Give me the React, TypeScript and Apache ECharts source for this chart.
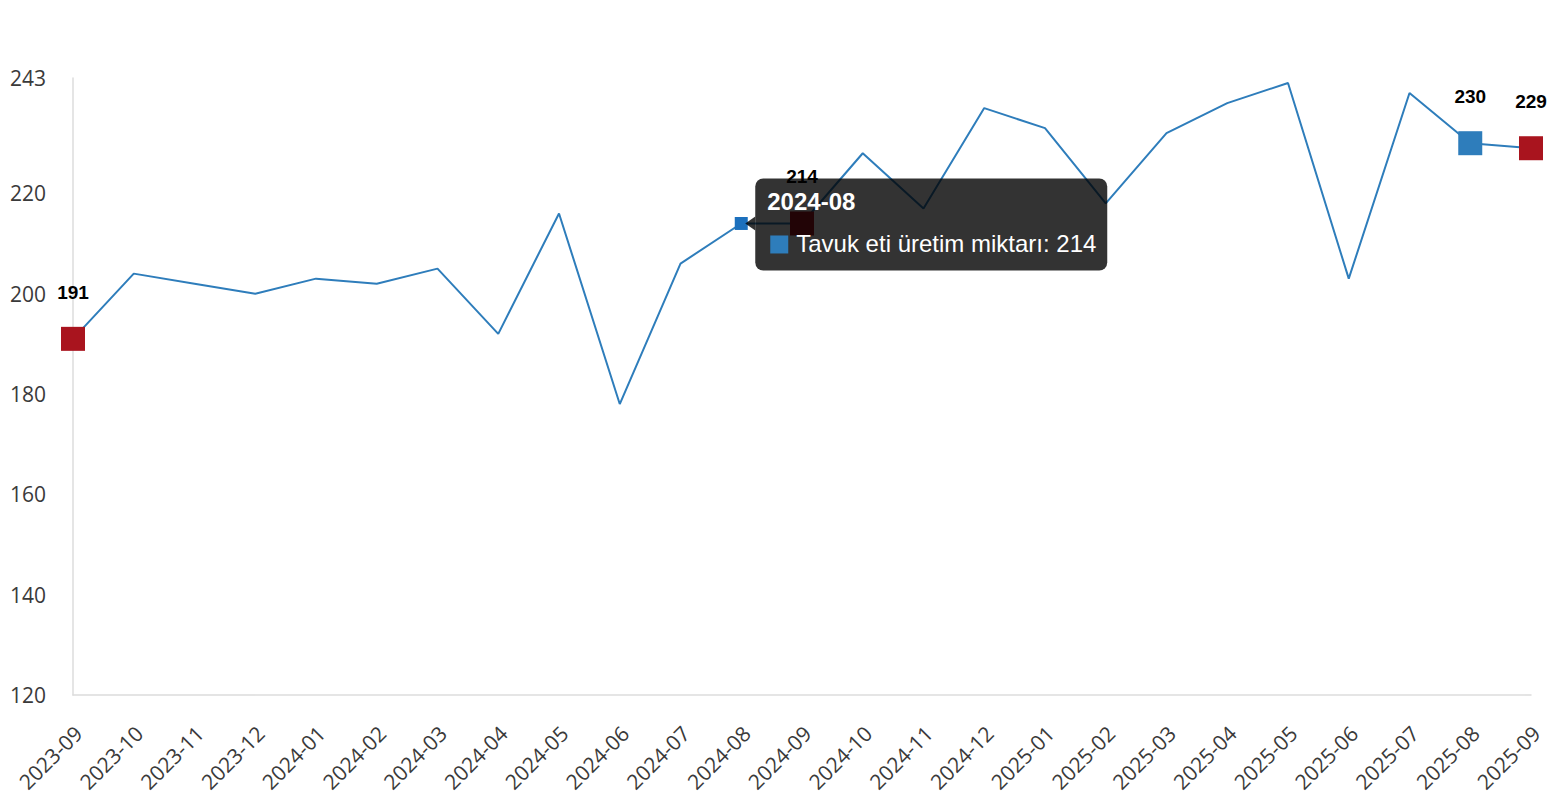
import React, { useEffect, useRef } from "react";
import * as echarts from "echarts";

const seriesName = "Tavuk eti üretim miktarı";

const categories = [
  "2023-09", "2023-10", "2023-11", "2023-12", "2024-01", "2024-02", "2024-03",
  "2024-04", "2024-05", "2024-06", "2024-07", "2024-08", "2024-09", "2024-10",
  "2024-11", "2024-12", "2025-01", "2025-02", "2025-03", "2025-04", "2025-05",
  "2025-06", "2025-07", "2025-08", "2025-09",
];

const values = [
  191, 204, 202, 200, 203, 202, 205, 192, 216, 178, 206, 214, 214, 228, 217,
  237, 233, 218, 232, 238, 242, 203, 240, 230, 229,
];

const yMin = 120;
const yMax = 243;
const yInterval = 20;
const yTickLabels = [120, 140, 160, 180, 200, 220, 243];

// highlighted points
const redIndices = [0, 12, 24]; // same month (September) of each year
const blueIndices = [23]; // previous month
const hoverIndex = 11; // point with the tooltip shown

const LINE_COLOR = "#2e7dbb";
const RED_COLOR = "#a9141e";
const HOVER_COLOR = "#1c70bd";
const TIP_BG = "rgba(0,0,0,0.8)";

export default function App() {
  const ref = useRef<HTMLDivElement | null>(null);

  useEffect(() => {
    if (!ref.current) return;
    const chart = echarts.init(ref.current, null, { renderer: "svg" });

    const labelStyle = {
      show: true,
      position: "top",
      distance: 25,
      color: "#000",
      fontWeight: "bold",
      fontSize: 19,
      fontFamily: "Liberation Sans, Arial, sans-serif",
    };

    const data = values.map((v, i) => {
      if (redIndices.includes(i)) {
        return {
          value: v,
          symbol: "rect",
          symbolSize: 24,
          itemStyle: { color: RED_COLOR },
          label: labelStyle,
        };
      }
      if (blueIndices.includes(i)) {
        return {
          value: v,
          symbol: "rect",
          symbolSize: 24,
          itemStyle: { color: LINE_COLOR },
          label: labelStyle,
        };
      }
      if (i === hoverIndex) {
        return {
          value: v,
          symbol: "rect",
          symbolSize: 13,
          itemStyle: { color: HOVER_COLOR },
        };
      }
      return { value: v, symbol: "none", symbolSize: 0 };
    });

    chart.setOption({
      animation: false,
      backgroundColor: "#fff",
      grid: { left: 73, right: 25, top: 78, bottom: 105, containLabel: false },
      xAxis: {
        type: "category",
        data: categories,
        boundaryGap: false,
        axisLine: { show: true, lineStyle: { color: "#dcdcdc", width: 1.5 } },
        axisTick: { show: false },
        splitLine: { show: false },
        axisLabel: {
          rotate: 45,
          interval: 0,
          margin: 25,
          verticalAlign: "top",
          align: "right",
          padding: [0, 3, 0, 0],
          color: "#3a3a3a",
          fontSize: 21,
          fontFamily: "Open Sans, Noto Sans, sans-serif",
        },
      },
      yAxis: {
        type: "value",
        min: yMin,
        max: yMax,
        interval: yInterval,
        axisLine: { show: true, lineStyle: { color: "#dcdcdc", width: 1.5 } },
        axisTick: { show: false },
        splitLine: { show: false },
        axisLabel: {
          margin: 27,
          color: "#3a3a3a",
          fontSize: 21,
          fontFamily: "Open Sans, Noto Sans, sans-serif",
          showMaxLabel: true,
          showMinLabel: true,
          formatter: (v: number) => (yTickLabels.includes(v) ? String(v) : ""),
        },
      },
      series: [
        {
          name: seriesName,
          type: "line",
          data,
          symbol: "none",
          showSymbol: true,
          lineStyle: { color: LINE_COLOR, width: 2 },
          itemStyle: { color: LINE_COLOR },
          z: 2,
        },
      ],
    });

    const pt = chart.convertToPixel({ gridIndex: 0 }, [
      categories[hoverIndex],
      values[hoverIndex],
    ]) as number[];

    if (pt && isFinite(pt[0]) && isFinite(pt[1])) {
      const gx = pt[0] + 14;
      const gy = pt[1] - 45;
      const Z = 100;
      chart.setOption({
        graphic: [
          {
            type: "group",
            x: gx,
            y: gy,
            z: Z,
            zlevel: 0,
            children: [
              {
                type: "polygon",
                z: Z,
                shape: { points: [[0, 38], [-10, 45], [0, 52]] },
                style: { fill: TIP_BG },
              },
              {
                type: "rect",
                z: Z,
                shape: { x: 0, y: 0, width: 352, height: 92, r: 8 },
                style: { fill: TIP_BG },
              },
              {
                type: "text",
                z: Z + 1,
                x: 12,
                y: 23,
                style: {
                  text: categories[hoverIndex],
                  fill: "#fff",
                  fontSize: 24,
                  fontWeight: "bold",
                  fontFamily: "Liberation Sans, Arial, sans-serif",
                  verticalAlign: "middle",
                },
              },
              {
                type: "rect",
                z: Z + 1,
                shape: { x: 15, y: 57, width: 18, height: 18 },
                style: { fill: LINE_COLOR },
              },
              {
                type: "text",
                z: Z + 1,
                x: 41,
                y: 65,
                style: {
                  text: `${seriesName}: ${values[hoverIndex]}`,
                  fill: "#fff",
                  fontSize: 24,
                  fontFamily: "Liberation Sans, Arial, sans-serif",
                  verticalAlign: "middle",
                },
              },
            ],
          },
        ],
      });
    }

    return () => {
      chart.dispose();
    };
  }, []);

  return (
    <div
      ref={ref}
      style={{
        position: "fixed",
        left: 0,
        top: 0,
        width: "1556px",
        height: "800px",
        background: "#fff",
      }}
    />
  );
}
